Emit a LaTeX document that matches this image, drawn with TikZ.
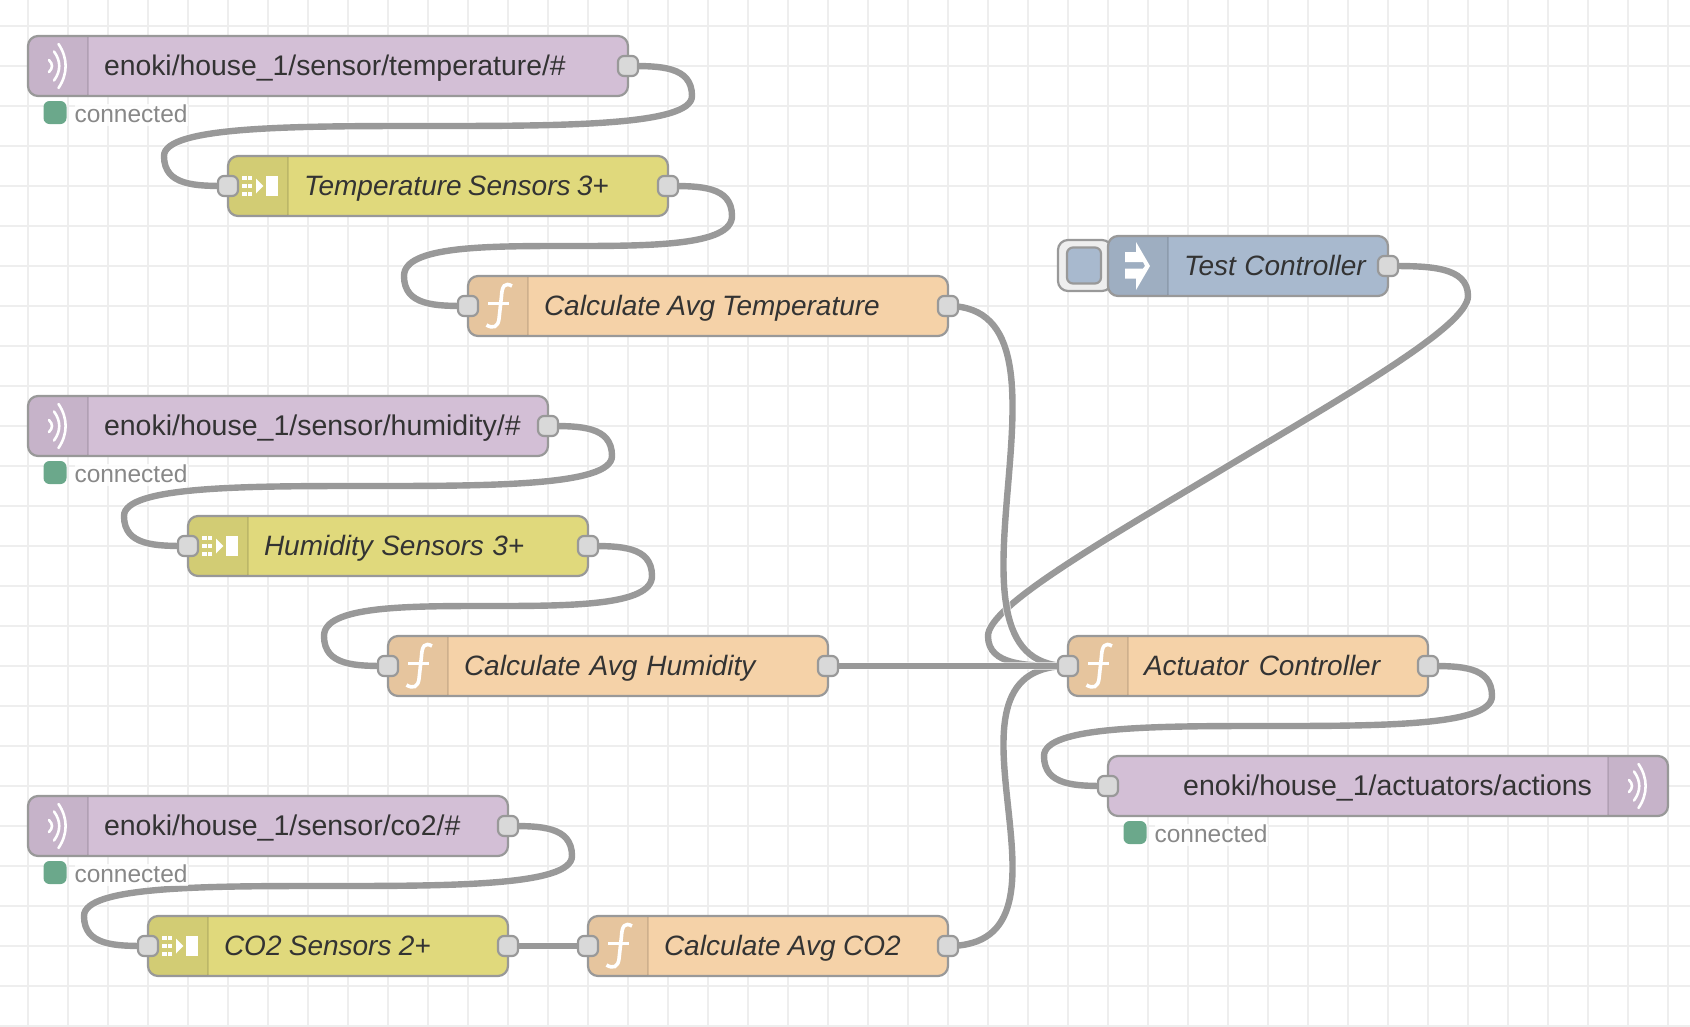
\documentclass[tikz,border=0pt]{standalone}
\usepackage{fontspec}
\setmainfont{Liberation Sans}
\usetikzlibrary{calc}
\definecolor{gridc}{HTML}{EEEEEE}
\definecolor{wirec}{HTML}{999999}
\definecolor{mqttc}{RGB}{211,191,214}
\definecolor{splitc}{RGB}{224,217,124}
\definecolor{funcc}{RGB}{245,210,168}
\definecolor{injectc}{RGB}{168,185,206}
\definecolor{portc}{HTML}{D9D9D9}
\definecolor{okc}{RGB}{107,168,139}
\definecolor{labelc}{HTML}{333333}
\definecolor{statc}{HTML}{888888}
\pgfdeclarelayer{gridlayer}
\pgfdeclarelayer{wirelayer}
\pgfsetlayers{gridlayer,wirelayer,main}
\tikzset{
  x=1pt,y=-1pt,
  gridline/.style={draw=gridc,line width=2pt},
  wire/.style={draw=wirec,line width=6.4pt,preaction={draw=white,draw opacity=.6,line width=8.5pt}},
  nodebody/.style={draw=wirec,line width=2.2pt,rounded corners=10pt,minimum height=60pt,outer sep=0pt,inner xsep=10pt,inner ysep=0pt,text height=23pt,text depth=4pt,text=labelc,font=\fontsize{28}{32}\selectfont},
  portnode/.style={draw=wirec,fill=portc,line width=2.2pt,rounded corners=6pt,minimum width=20pt,minimum height=20pt,inner sep=0pt,outer sep=0pt},
  statdot/.style={fill=okc,rounded corners=6pt,minimum width=23pt,minimum height=23pt,inner sep=0pt,outer sep=0pt,anchor=north west},
  stattext/.style={fill=white,fill opacity=.8,text opacity=1,text=statc,font=\fontsize{24.5}{28}\selectfont,anchor=base west,inner xsep=0pt,inner ysep=0pt,text height=19pt,text depth=3pt,outer sep=0pt},
  iconline/.style={draw=white,line width=2.6pt,line cap=round},
  iconfill/.style={fill=white},
  btnouter/.style={draw=wirec,fill=gridc,line width=2.2pt,rounded corners=10pt,inner sep=0pt,outer sep=0pt,minimum width=54pt,minimum height=51pt},
  btninner/.style={draw=wirec,fill=injectc,line width=2.2pt,rounded corners=6pt,inner sep=0pt,outer sep=0pt,minimum width=34pt,minimum height=36pt},
}
\newcommand{\usc}{\char95\relax}
\newcommand{\itl}[2]{\itshape\spaceskip=#1pt\relax #2}
\newcommand{\upl}[2]{\fontsize{#1}{32}\selectfont #2}
% icon panel, drawn in a frame whose origin is the panel's left edge at mid height
\newcommand{\panelleft}{%
  \path[fill=black,fill opacity=.06] (60,-29) [rounded corners=9pt] -- (1,-29) -- (1,29) [sharp corners] -- (60,29) -- cycle;
  \draw[black,draw opacity=.1,line width=2pt] (60,-29) -- (60,29);}
\newcommand{\panelright}{%
  \path[fill=black,fill opacity=.06] (0,-29) [rounded corners=9pt] -- (59,-29) -- (59,29) [sharp corners] -- (0,29) -- cycle;
  \draw[black,draw opacity=.1,line width=2pt] (0,-29) -- (0,29);}
\newcommand{\waveicon}{%
  \draw[iconline] (30.5,-22) .. controls (40,-8) and (40,8) .. (30.5,22);
  \draw[iconline] (26,-14.5) .. controls (33,-5) and (33,5) .. (26,14.5);
  \draw[iconline] (21,-6) .. controls (25,-2) and (25,2) .. (21,6);}
\newcommand{\funcicon}{%
  \draw[iconline,line cap=butt,line width=3.6pt] (44,-20) .. controls (37,-24) and (34,-20) .. (33.5,-10) -- (31,13) .. controls (30,21) and (25,23) .. (18.5,19);
  \draw[iconline,line cap=butt,line width=3pt] (20,-3) -- (41,-3);}
\newcommand{\spliticon}{%
  \foreach \sy in {-10,-2,6}{\foreach \sx in {14,19.5}{\fill[iconfill] (\sx,\sy) rectangle ++(4.5,4);}}
  \fill[iconfill] (28,-7.5) -- (35.3,0) -- (28,7.5) -- cycle;
  \fill[iconfill] (38,-10) rectangle (50,10);}
\newcommand{\injecticon}{%
  \fill[iconfill] (17,-14) -- (28,-14) -- (28,-24) -- (42,0) -- (28,24) -- (28,12.5) -- (17,12.5) -- (17,2.5) -- (35,2.5) -- (37,0) -- (35,-4) -- (17,-4) -- cycle;}
% name, left, centre y, width, colour, icon, label
\newcommand{\flownode}[7]{%
  \node[nodebody,fill=#5,anchor=west,minimum width=#4pt,text width=#4pt-20pt,align=left] (#1) at (#2,#3) {\hspace*{66pt}#7};
  \begin{scope}[shift={(#2,#3)}]\panelleft #6\end{scope}}
\newcommand{\statusbelow}[3]{% name, node left, node centre y
  \node[stattext] (#1t) at (#2+46.5,#3+56.5) {connected};
  \node[statdot] (#1d) at (#2+15.5,#3+35) {};}
\newcommand{\backwire}[4]{% from, to, reach, lift of the inner control points
  \begin{pgfonlayer}{wirelayer}
  \draw[wire] let \p1=(#1.center),\p2=(#2.center),\p3=($(#1.center)!.5!(#2.center)$) in
    (\p1) .. controls (\x1+0.5*#3,\y1) and (\x1+#3,\y1) .. (\x1+#3,\y1-30pt)
    .. controls (\x1+#3,\y1-60pt) and (0.5*\x3+0.5*\x1+0.5*#3,\y3+#4) .. (\p3)
    .. controls (0.5*\x3+0.5*\x2-0.5*#3,\y3-#4) and (\x2-#3,\y2+60pt) .. (\x2-#3,\y2+30pt)
    .. controls (\x2-#3,\y2) and (\x2-0.5*#3,\y2) .. (\p2);
  \end{pgfonlayer}}
\newcommand{\forewire}[2]{%
  \begin{pgfonlayer}{wirelayer}
  \draw[wire] let \p1=(#1.center),\p2=(#2.center) in
    (\p1) .. controls (\x1+150pt,\y1) and (\x2-150pt,\y2) .. (\p2);
  \end{pgfonlayer}}
\newcommand{\straightwire}[2]{%
  \begin{pgfonlayer}{wirelayer}
  \draw[wire] (#1.center) -- (#2.center);
  \end{pgfonlayer}}
\begin{document}
\begin{tikzpicture}
\useasboundingbox (0,0) rectangle (1690,1026);
\begin{pgfonlayer}{gridlayer}
  \fill[white] (0,0) rectangle (1690,1026);
  \foreach \k in {0,...,41}{\draw[gridline] (27.7+40*\k,0) -- (27.7+40*\k,1026);}
  \foreach \k in {0,...,25}{\draw[gridline] (0,25.7+40*\k) -- (1690,25.7+40*\k);}
\end{pgfonlayer}

% temperature chain
\flownode{tempin}{28}{66}{600}{mqttc}{\waveicon}{\upl{28.35}{enoki/house\usc 1/sensor/temperature/\#}}
\node[portnode] (tempino) at (tempin.east) {};
\statusbelow{tempst}{28}{66}
\flownode{tempsp}{228}{186}{440}{splitc}{\spliticon}{\itl{6.2}{Temperature Sensors 3+}}
\node[portnode] (tempspi) at (tempsp.west) {};
\node[portnode] (tempspo) at (tempsp.east) {};
\flownode{tempav}{468}{306}{480}{funcc}{\funcicon}{\itl{6.8}{Calculate Avg Temperature}}
\node[portnode] (tempavi) at (tempav.west) {};
\node[portnode] (tempavo) at (tempav.east) {};

% humidity chain
\flownode{humin}{28}{426}{520}{mqttc}{\waveicon}{\upl{28.5}{enoki/house\usc 1/sensor/humidity/\#}}
\node[portnode] (humino) at (humin.east) {};
\statusbelow{humst}{28}{426}
\flownode{humsp}{188}{546}{400}{splitc}{\spliticon}{\itl{8.4}{Humidity Sensors 3+}}
\node[portnode] (humspi) at (humsp.west) {};
\node[portnode] (humspo) at (humsp.east) {};
\flownode{humav}{388}{666}{440}{funcc}{\funcicon}{\itl{9}{Calculate Avg Humidity}}
\node[portnode] (humavi) at (humav.west) {};
\node[portnode] (humavo) at (humav.east) {};

% co2 chain
\flownode{coin}{28}{826}{480}{mqttc}{\waveicon}{\upl{28.5}{enoki/house\usc 1/sensor/co2/\#}}
\node[portnode] (coino) at (coin.east) {};
\statusbelow{cost}{28}{826}
\flownode{cosp}{148}{946}{360}{splitc}{\spliticon}{\itl{7.3}{CO2 Sensors 2+}}
\node[portnode] (cospi) at (cosp.west) {};
\node[portnode] (cospo) at (cosp.east) {};
\flownode{coav}{588}{946}{360}{funcc}{\funcicon}{\itl{7.3}{Calculate Avg CO2}}
\node[portnode] (coavi) at (coav.west) {};
\node[portnode] (coavo) at (coav.east) {};

% test controller
\node[btnouter] (btn) at (1085,265.5) {};
\node[btninner] (btnin) at (1084,265.5) {};
\flownode{test}{1108}{266}{280}{injectc}{\injecticon}{\itl{8.4}{Test Controller}}
\node[portnode] (testo) at (test.east) {};

% actuator controller
\flownode{act}{1068}{666}{360}{funcc}{\funcicon}{\itl{10.5}{Actuator Controller}}
\node[portnode] (acti) at (act.west) {};
\node[portnode] (acto) at (act.east) {};

% mqtt out
\node[nodebody,fill=mqttc,anchor=west,minimum width=560pt,text width=540pt,align=right] (out) at (1108,786) {\upl{28.5}{enoki/house\usc 1/actuators/actions}\hspace*{66pt}};
\begin{scope}[shift={(1608,786)}]\panelright \waveicon\end{scope}
\node[portnode] (outi) at (out.west) {};
\statusbelow{outst}{1108}{786}

% wires
\backwire{tempino}{tempspi}{64pt}{0pt}
\backwire{tempspo}{tempavi}{64pt}{0pt}
\backwire{humino}{humspi}{64pt}{0pt}
\backwire{humspo}{humavi}{64pt}{0pt}
\backwire{coino}{cospi}{64pt}{0pt}
\backwire{acto}{outi}{64pt}{0pt}
\backwire{testo}{acti}{80pt}{72pt}
\forewire{tempavo}{acti}
\forewire{coavo}{acti}
\straightwire{humavo}{acti}
\straightwire{cospo}{coavi}
\end{tikzpicture}
\end{document}
